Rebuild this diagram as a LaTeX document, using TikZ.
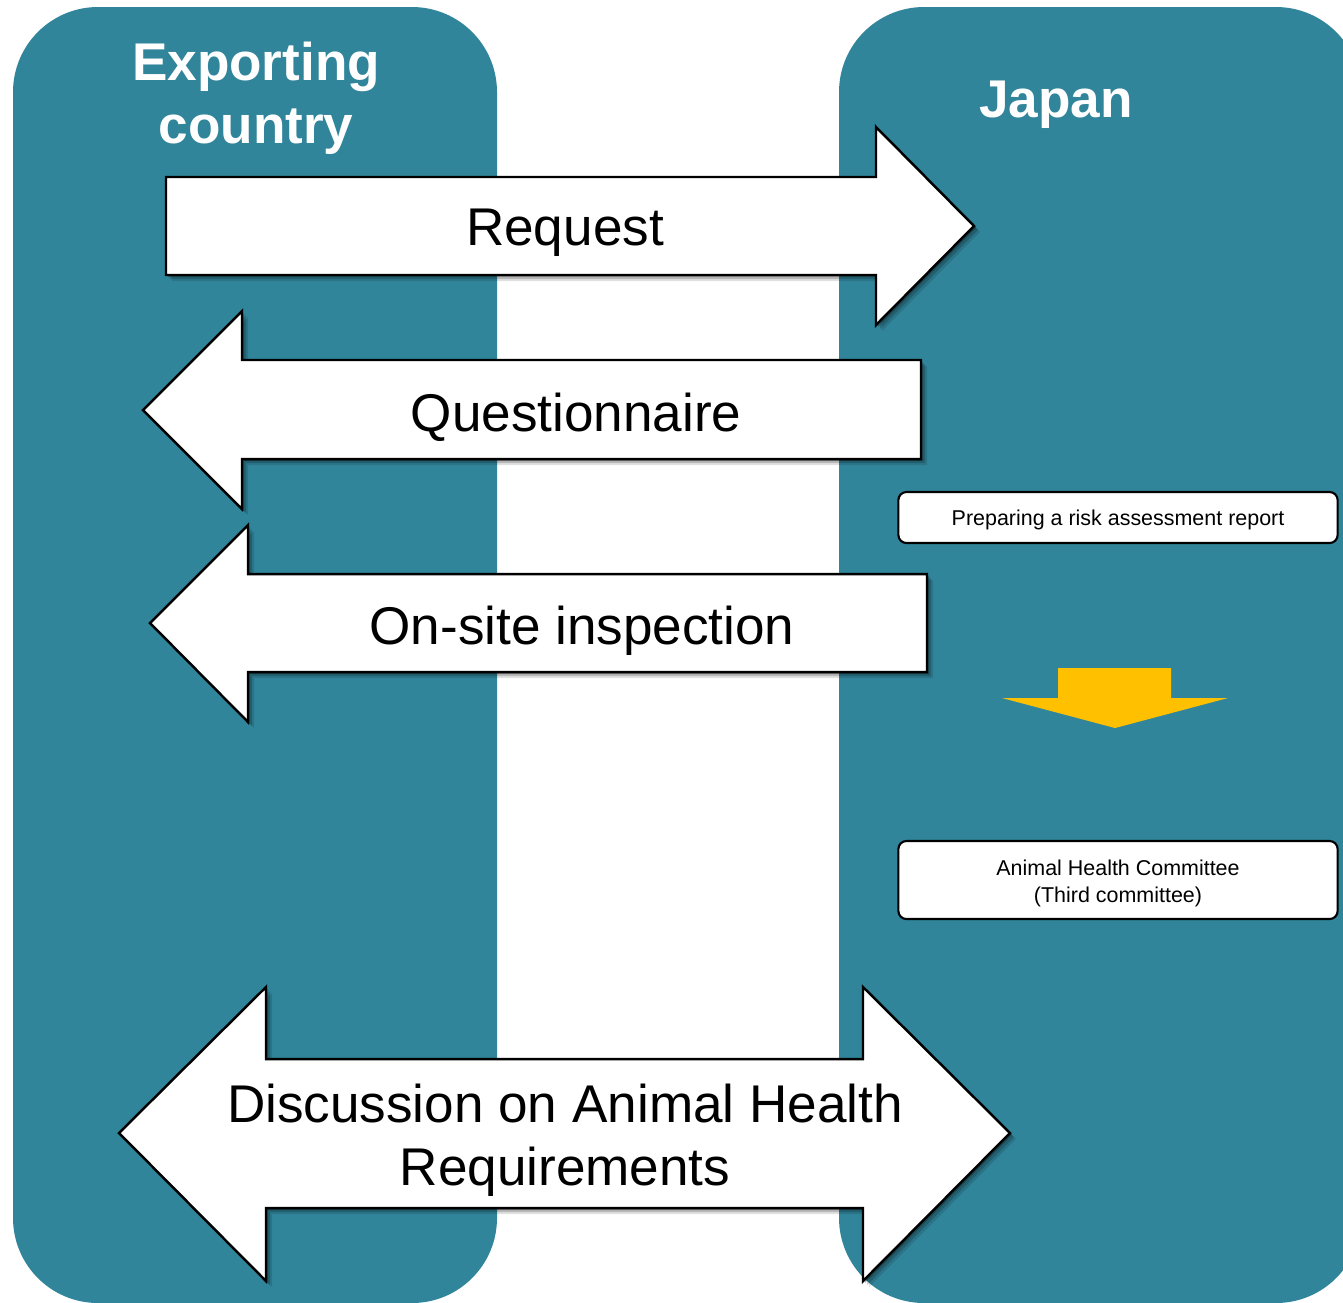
\documentclass[tikz,border=0pt]{standalone}
\usepackage{fontspec}
\setmainfont{Liberation Sans}
\usepackage{tikz}
\usetikzlibrary{shadows}
\definecolor{laneblue}{RGB}{49,133,155}
\definecolor{stepyellow}{RGB}{255,192,0}

\tikzset{
    lane/.style={fill=laneblue, rounded corners=0.85cm},
    softshadow/.style={
        drop shadow={shadow xshift=0.06cm, shadow yshift=-0.06cm, opacity=0.12, fill=black},
        drop shadow={shadow xshift=0.04cm, shadow yshift=-0.04cm, opacity=0.18, fill=black},
        drop shadow={shadow xshift=0.02cm, shadow yshift=-0.02cm, opacity=0.25, fill=black}},
    bigarrow/.style={softshadow, fill=white, draw=black, line width=0.7pt, line join=miter},
    bigtext/.style={font=\fontsize{15.1}{17.9}\selectfont, align=center},
    lanetitle/.style={text=white, font=\fontsize{15.1}{17.9}\selectfont\bfseries, align=center},
    smallbox/.style={fill=white, draw=black, line width=0.6pt, rounded corners=2.3pt,
        minimum width=4.39cm, inner sep=0pt},
    smalltext/.style={font=\fontsize{6.1}{7.7}\selectfont, align=center, inner sep=0pt}
}

\begin{document}
\begin{tikzpicture}[x=0.01cm, y=-0.01cm]
    \useasboundingbox (0,0) rectangle (1343,1302);

    % Lanes
    \fill[lane] (13,7) rectangle (497,1303);
    \fill[lane] (839,7) rectangle (1361,1303);
    \node[lanetitle] (exporter) at (256,98) {Exporting\\country};
    \node[lanetitle] (japan) at (1056,105) {Japan};

    % Request
    \path[bigarrow] (166,177) -- (876,177) -- (876,127) -- (974,226)
        -- (876,325) -- (876,275) -- (166,275) -- cycle;
    \node[bigtext] (request) at (565,233) {Request};

    % Questionnaire
    \path[bigarrow] (921,360) -- (242,360) -- (242,311) -- (143,410)
        -- (242,509) -- (242,459) -- (921,459) -- cycle;
    \node[bigtext] (quest) at (576,417) {Questionnaire};

    % On-site inspection
    \path[bigarrow] (927,574) -- (248,574) -- (248,525) -- (150,623)
        -- (248,722) -- (248,672) -- (927,672) -- cycle;
    \node[bigtext] (onsite) at (582,631) {On-site inspection};

    % Discussion
    \path[bigarrow] (266,1059) -- (863,1059) -- (863,987) -- (1010,1133)
        -- (863,1281) -- (863,1208) -- (266,1208) -- (266,1281)
        -- (119,1133) -- (266,987) -- cycle;
    \node[bigtext] (discuss) at (565,1140) {Discussion on Animal Health\\Requirements};

    % Japan side steps
    \node[smallbox, minimum height=0.51cm] (riskrep) at (1118,517.5) {};
    \node[smalltext] (risktext) at (1118,520) {Preparing a risk assessment report};
    \fill[stepyellow] (1058,668) -- (1171,668) -- (1171,698) -- (1228,698)
        -- (1115,728) -- (1002,698) -- (1058,698) -- cycle;
    \node[smallbox, minimum height=0.78cm] (ahc) at (1118,880) {};
    \node[smalltext] (ahctext) at (1118,883) {Animal Health Committee\\(Third committee)};
\end{tikzpicture}
\end{document}
